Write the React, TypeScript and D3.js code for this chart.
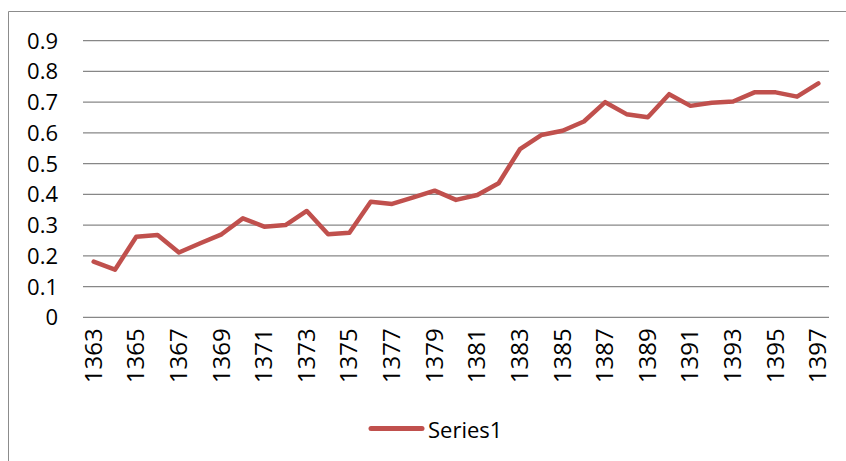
import React from 'react';
import * as d3 from 'd3';

const width = 846;
const height = 461;
const plot = {left: 83, right: 829, top: 40.7, bottom: 317.3};
const lineColor = '#c0504d';
const gridColor = '#878787';
const font = '"Open Sans", "Liberation Sans", sans-serif';

const years = [
  '1363', '1364', '1365', '1366', '1367', '1368', '1369', '1370', '1371', '1372',
  '1373', '1374', '1375', '1376', '1377', '1378', '1379', '1380', '1381', '1382',
  '1383', '1384', '1385', '1386', '1387', '1388', '1389', '1390', '1391', '1392',
  '1393', '1394', '1395', '1396', '1397',
];
const series1 = [
  0.181, 0.155, 0.262, 0.268, 0.211, 0.241, 0.270, 0.322, 0.295, 0.300,
  0.346, 0.270, 0.275, 0.376, 0.369, 0.390, 0.412, 0.382, 0.398, 0.436,
  0.547, 0.593, 0.607, 0.637, 0.700, 0.661, 0.651, 0.726, 0.688, 0.698,
  0.702, 0.732, 0.732, 0.718, 0.761,
];
const yTicks = [0, 0.1, 0.2, 0.3, 0.4, 0.5, 0.6, 0.7, 0.8, 0.9];
const seriesName = 'Series1';

const App: React.FC = () => {
  const xScale = d3.scalePoint<string>()
    .domain(years)
    .range([plot.left, plot.right])
    .padding(0.5);

  const yScale = d3.scaleLinear()
    .domain([0, 0.9])
    .range([plot.bottom, plot.top]);

  const linePath = d3.line<number>()
    .x((_, i) => xScale(years[i]) as number)
    .y(d => yScale(d))(series1) || '';

  const shownYears = years.filter((_, i) => i % 2 === 0);

  return (
    <svg width={width} height={height} style={{position: 'absolute', left: 0, top: 0}}>
      <rect x={0} y={0} width={width} height={height} fill='#fff' />
      <path d={`M8.5,${height} V11.5 H${width}`} fill='none' stroke='#8c8c8c' strokeWidth='1' />

      {yTicks.map(t => (
        <g key={t}>
          <line x1={plot.left} x2={plot.right} y1={yScale(t)} y2={yScale(t)}
            stroke={gridColor} strokeWidth='1.2' />
          <text x={58} y={yScale(t) + 8} textAnchor='end' fontFamily={font}
            fontSize='22' fill='#000'>{t === 0 ? '0' : t.toFixed(1)}</text>
        </g>
      ))}

      {shownYears.map(y => (
        <text key={y} transform={`translate(${(xScale(y) as number) + 8},${plot.bottom + 11}) rotate(-90)`}
          textAnchor='end' fontFamily={font} fontSize='24' fill='#000'>{y}</text>
      ))}

      <path d={linePath} fill='none' stroke={lineColor} strokeWidth='4.5'
        strokeLinejoin='round' strokeLinecap='round' />

      <line x1={371} x2={422} y1={428.5} y2={428.5} stroke={lineColor} strokeWidth='5'
        strokeLinecap='round' />
      <text x={428} y={437.5} fontFamily={font} fontSize='22' fill='#000'>{seriesName}</text>
    </svg>
  );
};

export default App;
